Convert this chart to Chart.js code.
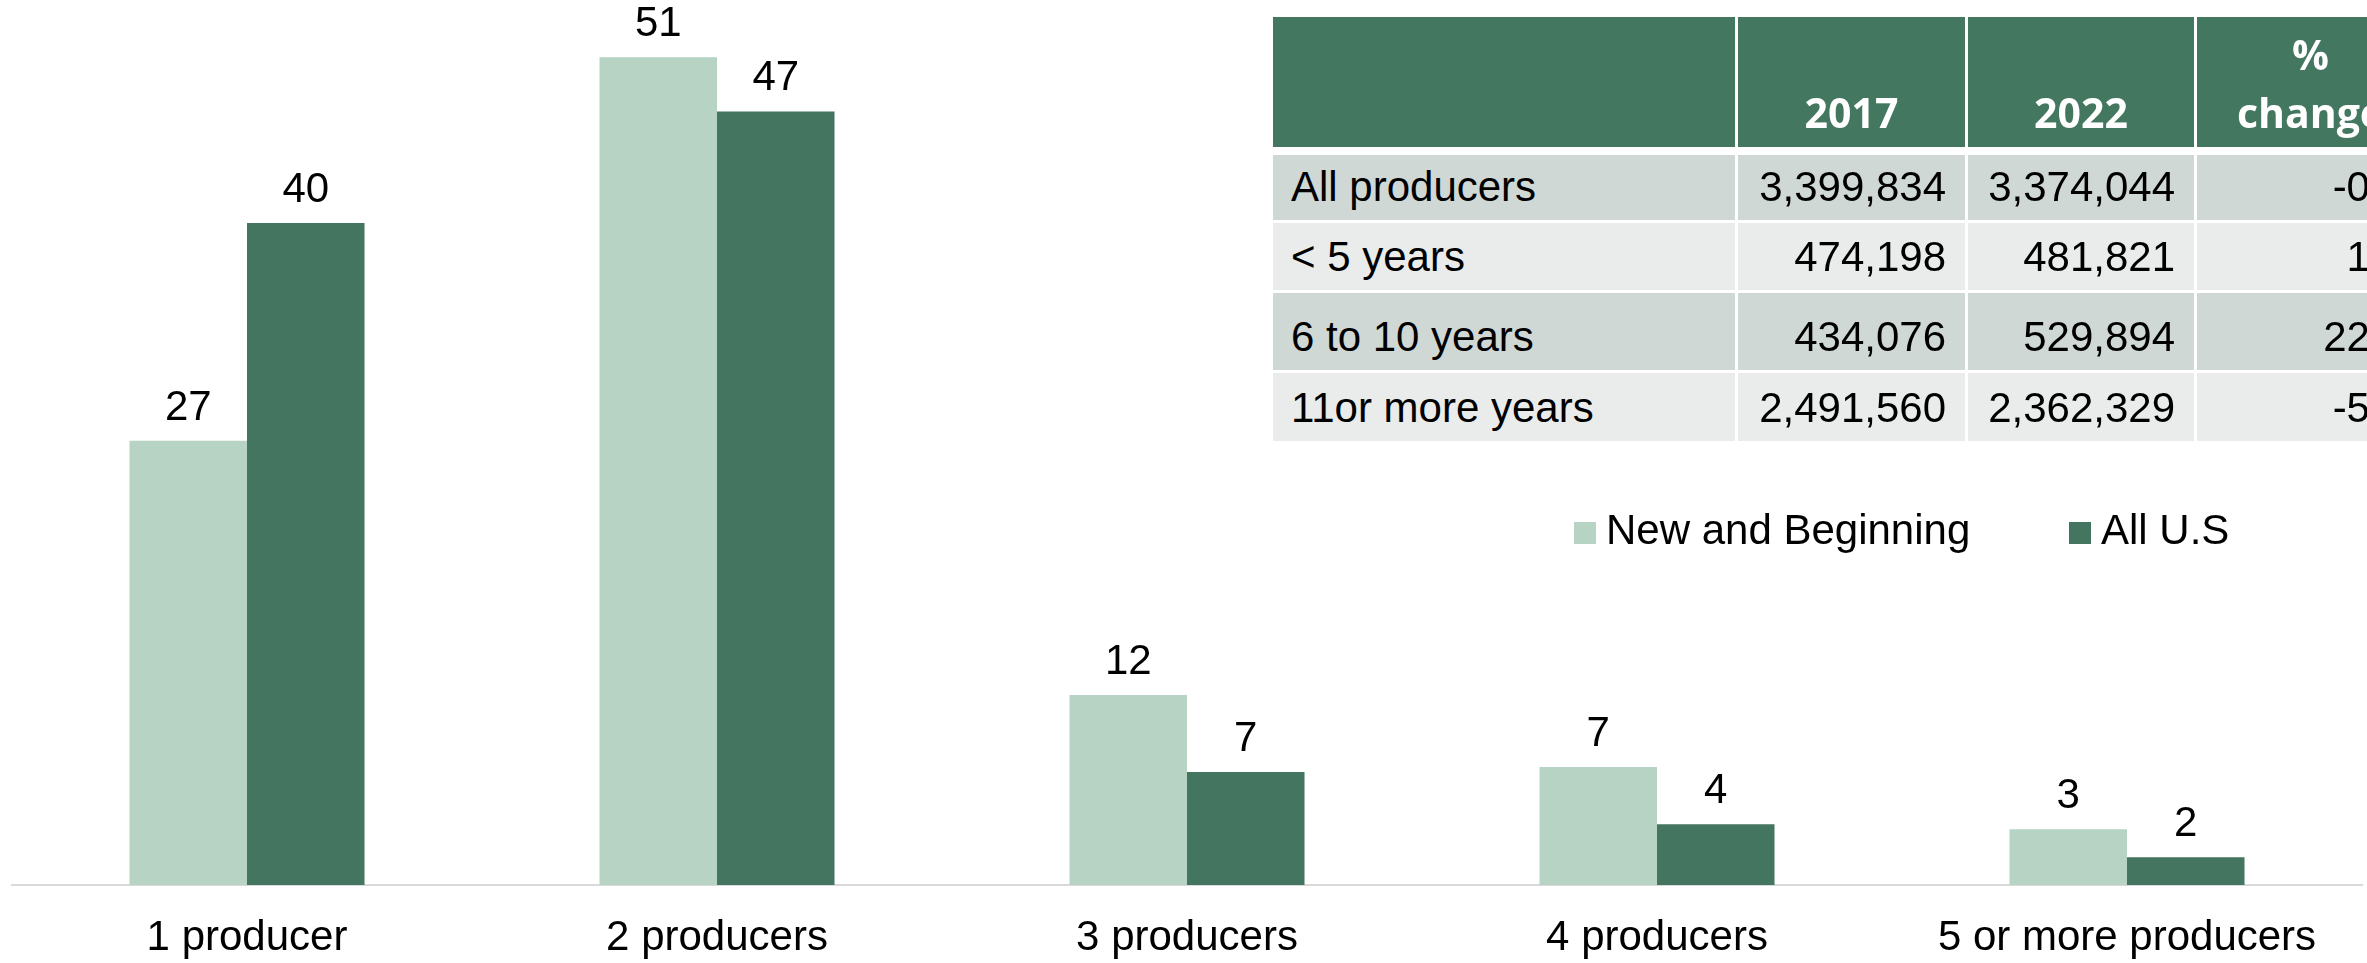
<!DOCTYPE html>
<html>
<head>
<meta charset="utf-8">
<script src="https://cdn.jsdelivr.net/npm/chart.js"></script>
<style>
  html, body { margin: 0; padding: 0; background: #fff; overflow: hidden; }
  #wrap { position: relative; width: 2367px; height: 963px; overflow: hidden; }
  #chartProducers { position: absolute; left: 0; top: 0; }
  .cell { position: absolute; box-sizing: border-box; display: flex; flex-direction: column; justify-content: flex-end; }
  .head { background: #44775F; color: #fff; font: bold 41px "Open Sans", sans-serif; line-height: 58px; text-align: center; padding-bottom: 6px; }
  .body { font: 42px "Liberation Sans", Arial, sans-serif; line-height: 48px; color: #000; padding: 0 19px 9px 18px; white-space: nowrap; }
  .num { text-align: right; }
  .legend-item { position: absolute; font: 42px "Liberation Sans", Arial, sans-serif; color: #000; line-height: 48px; white-space: nowrap; }
  .legend-item span { position: absolute; width: 22px; height: 22px; }
</style>
</head>
<body>
<div id="wrap">
  <canvas id="chartProducers" width="2367" height="963"></canvas>
  <div id="summaryTable"></div>
  <div id="legendBox"></div>
</div>
<script>
/* eslint-disable no-undef */
const categories = ['1 producer', '2 producers', '3 producers', '4 producers', '5 or more producers'];
const newBeginning = [27.1, 50.5, 11.6, 7.2, 3.4];
const allUS = [40.4, 47.2, 6.9, 3.7, 1.7];

const tableRows = ['All producers', '< 5 years', '6 to 10 years', '11or more years'];
const tableHead = ['', '2017', '2022', '%<br>change'];
const producers2017 = [3399834, 474198, 434076, 2491560];
const producers2022 = [3374044, 481821, 529894, 2362329];
const pctChange = [-0.8, 1.6, 22.1, -5.2];

const lightGreen = '#B6D3C4';
const darkGreen = '#437560';
const fontFamily = '"Liberation Sans", Arial, sans-serif';

const barValueLabels = {
  id: 'barValueLabels',
  afterDatasetsDraw(chart) {
    const ctx = chart.ctx;
    ctx.save();
    ctx.font = '42px ' + fontFamily;
    ctx.fillStyle = '#000';
    ctx.textAlign = 'center';
    ctx.textBaseline = 'alphabetic';
    chart.data.datasets.forEach((ds, i) => {
      chart.getDatasetMeta(i).data.forEach((bar, j) => {
        ctx.fillText(String(Math.round(ds.data[j])), bar.x, bar.y - 21);
      });
    });
    ctx.restore();
  },
};

const chart = new Chart(document.getElementById('chartProducers'), {
  type: 'bar',
  data: {
    labels: categories,
    datasets: [
      {
        label: 'New and Beginning',
        data: newBeginning,
        backgroundColor: lightGreen,
        categoryPercentage: 0.5,
        barPercentage: 1.0,
      },
      {
        label: 'All U.S',
        data: allUS,
        backgroundColor: darkGreen,
        categoryPercentage: 0.5,
        barPercentage: 1.0,
      },
    ],
  },
  options: {
    responsive: false,
    animation: false,
    layout: { padding: { left: 12, right: 5, top: 0, bottom: 0 } },
    plugins: {
      legend: { display: false },
      tooltip: { enabled: false },
    },
    scales: {
      x: {
        grid: { display: false, drawTicks: false },
        border: { display: true, color: '#D9D9D9', width: 2 },
        ticks: {
          color: '#000',
          font: { family: fontFamily, size: 42 },
          padding: 28,
          maxRotation: 0,
          autoSkip: false,
        },
        afterFit(scale) {
          scale.height = 78;
        },
      },
      y: {
        display: false,
        min: 0,
        max: 54,
      },
    },
  },
  plugins: [barValueLabels],
});

// summary table
const colX = [1273, 1738, 1968, 2197];
const colW = [462, 227, 226, 227];
const rowTop = [155, 223, 293, 373];
const rowH = [65, 67, 77, 68];
const rowBg = ['#D0D8D5', '#E9ECEB', '#D0D8D5', '#E9ECEB'];
const table = document.getElementById('summaryTable');

function addCell(cls, x, y, w, h, html, bg) {
  const d = document.createElement('div');
  d.className = 'cell ' + cls;
  d.style.left = x + 'px';
  d.style.top = y + 'px';
  d.style.width = w + 'px';
  d.style.height = h + 'px';
  if (bg) d.style.background = bg;
  d.innerHTML = '<div>' + html + '</div>';
  table.appendChild(d);
}

tableHead.forEach((h, c) => addCell('head', colX[c], 17, colW[c], 130, h));
tableRows.forEach((name, r) => {
  const cells = [
    name.replace('<', '&lt;'),
    producers2017[r].toLocaleString('en-US'),
    producers2022[r].toLocaleString('en-US'),
    pctChange[r].toFixed(1),
  ];
  cells.forEach((txt, c) => {
    addCell('body' + (c ? ' num' : ''), colX[c], rowTop[r], colW[c], rowH[r], txt, rowBg[r]);
  });
});

// legend
const legendX = [1574, 2069];
const legendBox = document.getElementById('legendBox');
chart.data.datasets.forEach((ds, i) => {
  const item = document.createElement('div');
  item.className = 'legend-item';
  item.style.left = legendX[i] + 'px';
  item.style.top = '506px';
  item.innerHTML = '<span style="left:0;top:16px;background:' + ds.backgroundColor + '"></span>' +
    '<div style="margin-left:32px">' + ds.label + '</div>';
  legendBox.appendChild(item);
});
</script>
</body>
</html>
